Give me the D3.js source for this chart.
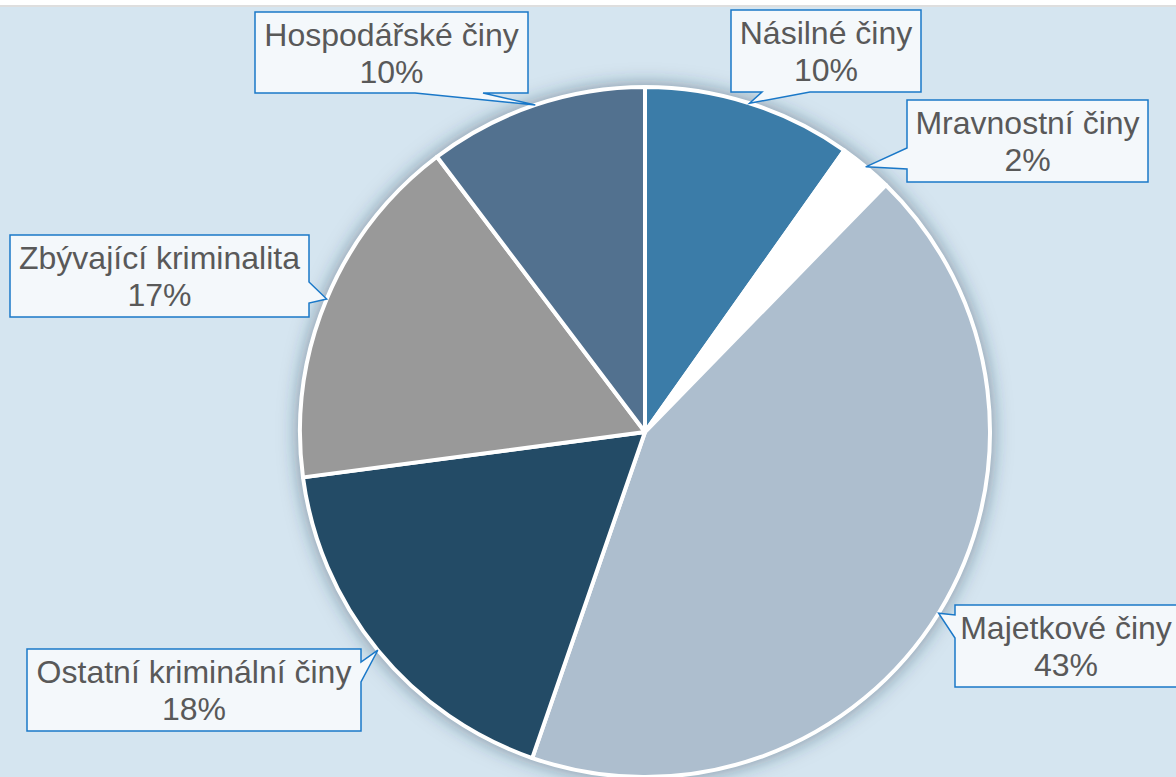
<!DOCTYPE html>
<html>
<head>
<meta charset="utf-8">
<script src="https://cdn.jsdelivr.net/npm/d3@7"></script>
<style>
  body { margin: 0; background: #fff; }
  svg { display: block; font-family: "Liberation Sans", Arial, sans-serif; }
</style>
</head>
<body>
<script>
// data
var categories = ["Násilné činy", "Mravnostní činy", "Majetkové činy", "Ostatní kriminální činy", "Zbývající kriminalita", "Hospodářské činy"]
var values = [9.8, 2.5, 43.0, 17.6, 16.8, 10.3]
var percentLabels = ["10%", "2%", "43%", "18%", "17%", "10%"]
var colors = ["#3b7ca8", "#ffffff", "#adbece", "#234b66", "#999999", "#52718f"]

// callout boxes: x, y, w, h, side of pointer, pointer base offsets along that side
var callouts = [
  {x: 731, y: 10, w: 190, h: 82, side: "bottom", b1: 31, b2: 79},
  {x: 907, y: 100, w: 241, h: 82, side: "left", b1: 48, b2: 69},
  {x: 955, y: 605, w: 222, h: 82, side: "left", b1: 10, b2: 33},
  {x: 27, y: 649, w: 334, h: 82, side: "right", b1: 13, b2: 33},
  {x: 10, y: 235, w: 299, h: 82, side: "right", b1: 47, b2: 68},
  {x: 255, y: 12, w: 273, h: 81, side: "bottom", b1: 160, b2: 228}
]

var width = 1176, height = 777
var cx = 645, cy = 432, radius = 345

var svg = d3.select("body").append("svg")
    .attr("width", width)
    .attr("height", height)

var defs = svg.append("defs")
var filter = defs.append("filter").attr("id", "shadow")
    .attr("x", "-20%").attr("y", "-20%").attr("width", "140%").attr("height", "140%")
filter.append("feGaussianBlur").attr("in", "SourceAlpha").attr("stdDeviation", 10).attr("result", "blur")
filter.append("feFlood").attr("flood-color", "#1e3a50").attr("flood-opacity", 0.55)
filter.append("feComposite").attr("in2", "blur").attr("operator", "in").attr("result", "sh")
var merge = filter.append("feMerge")
merge.append("feMergeNode").attr("in", "sh")
merge.append("feMergeNode").attr("in", "SourceGraphic")

// background
svg.append("rect").attr("width", width).attr("height", height).attr("fill", "#ffffff")
svg.append("rect").attr("y", 5).attr("width", width).attr("height", 2).attr("fill", "#dedede")
svg.append("rect").attr("y", 7).attr("width", width).attr("height", height - 7).attr("fill", "#d5e5f0")

var pie = d3.pie().sort(null).value(function(d) { return d })
var arcs = pie(values)

var arc = d3.arc().innerRadius(0).outerRadius(radius)
var anchorArc = d3.arc().innerRadius(radius).outerRadius(radius)

var chartLayer = svg.append("g")
    .attr("transform", "translate(" + [cx, cy] + ")")

chartLayer.append("circle")
    .attr("r", radius + 1)
    .attr("fill", "#ffffff")
    .attr("filter", "url(#shadow)")

chartLayer.selectAll("path.slice")
    .data(arcs)
    .enter().append("path")
    .attr("class", "slice")
    .attr("d", arc)
    .attr("fill", function(d, i) { return colors[i] })
    .attr("stroke", "#ffffff")
    .attr("stroke-width", 4)
    .attr("stroke-linejoin", "round")

// callouts
function calloutPath(c, tip) {
  var x0 = c.x, y0 = c.y, x1 = c.x + c.w, y1 = c.y + c.h
  var p = []
  p.push([x0, y0])
  p.push([x1, y0])
  if (c.side == "right") {
    p.push([x1, y0 + c.b1]); p.push(tip); p.push([x1, y0 + c.b2])
  }
  p.push([x1, y1])
  if (c.side == "bottom") {
    p.push([x0 + c.b2, y1]); p.push(tip); p.push([x0 + c.b1, y1])
  }
  p.push([x0, y1])
  if (c.side == "left") {
    p.push([x0, y0 + c.b2]); p.push(tip); p.push([x0, y0 + c.b1])
  }
  return "M" + p.join("L") + "Z"
}

var labels = svg.append("g").attr("class", "labels")

arcs.forEach(function(d, i) {
  var c = callouts[i]
  var a = anchorArc.centroid(d)
  var tip = [cx + a[0], cy + a[1]]
  labels.append("path")
      .attr("d", calloutPath(c, tip))
      .attr("fill", "#f4f8fb")
      .attr("stroke", "#1a78c8")
      .attr("stroke-width", 1.5)
      .attr("stroke-linejoin", "miter")
  var t = labels.append("text")
      .attr("text-anchor", "middle")
      .attr("fill", "#595959")
      .style("font-size", "32px")
  t.append("tspan").attr("x", c.x + c.w / 2).attr("y", c.y + 34).text(categories[i])
  t.append("tspan").attr("x", c.x + c.w / 2).attr("y", c.y + 71).text(percentLabels[i])
})
</script>
</body>
</html>
